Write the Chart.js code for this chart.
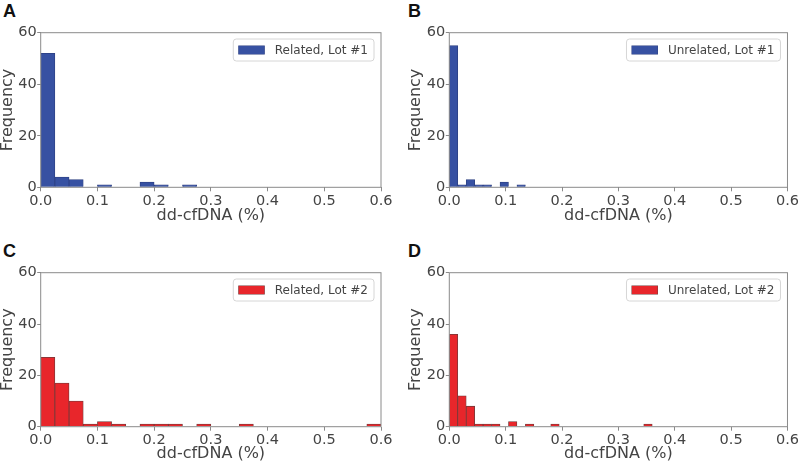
<!DOCTYPE html>
<html lang="en">
<head>
    <meta charset="UTF-8">
    <title>dd-cfDNA histograms</title>
    <style>
        body{
            margin: 0;
            background: #ffffff;
            width: 800px;
            height: 463px;
            position: relative;
            overflow: hidden;
        }
        .panel{
            position: absolute;
        }
        .letter{
            position: absolute;
            font-family: "Liberation Sans", Arial, sans-serif;
            font-weight: bold;
            font-size: 18px;
            line-height: 18px;
            color: #111111;
        }
    </style>
</head>
<body>
    <div class="letter" style="left:3px; top:1.5px">A</div>
    <div class="letter" style="left:408px; top:1.5px">B</div>
    <div class="letter" style="left:3px; top:241.5px">C</div>
    <div class="letter" style="left:408px; top:241.5px">D</div>

    <div class="panel" style="left:0px; top:0px; width:400px; height:230px"><canvas id="chart-a"></canvas></div>
    <div class="panel" style="left:400px; top:0px; width:400px; height:230px"><canvas id="chart-b"></canvas></div>
    <div class="panel" style="left:0px; top:230px; width:400px; height:233px"><canvas id="chart-c"></canvas></div>
    <div class="panel" style="left:400px; top:230px; width:400px; height:233px"><canvas id="chart-d"></canvas></div>

    <script src="https://cdn.jsdelivr.net/npm/chart.js"></script>

    <script>
        // bin widths (dd-cfDNA %) and counts per bin, starting at 0
        const binWidthA = 0.025
        const countsA = [52, 4, 3, 0, 1, 0, 0, 2, 1, 0, 1]

        const binWidthB = 0.015
        const countsB = [55, 1, 3, 1, 1, 0, 2, 0, 1]

        const binWidthC = 0.025
        const countsC = [27, 17, 10, 1, 2, 1, 0, 1, 1, 1, 0, 1, 0, 0, 1, 0, 0, 0, 0, 0, 0, 0, 0, 1]

        const binWidthD = 0.015
        const countsD = [36, 12, 8, 1, 1, 1, 0, 2, 0, 1, 0, 0, 1, 0, 0, 0, 0, 0, 0, 0, 0, 0, 0, 1]

        const labelA = "Related, Lot #1"
        const labelB = "Unrelated, Lot #1"
        const labelC = "Related, Lot #2"
        const labelD = "Unrelated, Lot #2"

        const xTicks = [0, 0.1, 0.2, 0.3, 0.4, 0.5, 0.6]
        const yTicks = [0, 20, 40, 60]

        const BLUE = "#3751a2"
        const BLUE_EDGE = "#2c3f80"
        const RED = "#e8262b"
        const RED_EDGE = "#703a3a"
        const TEXT = "#444444"
        const FRAME = "#8a8a8a"
        const FONT = '"DejaVu Sans", sans-serif'

        // frame round the plot area + legend box in the upper right
        const framePlugin = {
            id: 'framePlugin',
            afterDatasetsDraw(chart){
                const ctx = chart.ctx
                const a = chart.chartArea
                ctx.save()
                ctx.strokeStyle = FRAME
                ctx.lineWidth = 1
                ctx.strokeRect(a.left, a.top, a.right - a.left, a.bottom - a.top)
                ctx.restore()
            },
            afterDraw(chart){
                const ctx = chart.ctx
                const a = chart.chartArea
                const ds = chart.data.datasets[0]
                ctx.save()
                ctx.font = '12px ' + FONT
                const tw = ctx.measureText(ds.label).width
                const w = 5 + 26.5 + 10 + tw + 6
                const h = 22
                const x = a.right - 7 - w
                const y = a.top + 6.3
                const r = 3
                ctx.beginPath()
                ctx.moveTo(x + r, y)
                ctx.lineTo(x + w - r, y)
                ctx.quadraticCurveTo(x + w, y, x + w, y + r)
                ctx.lineTo(x + w, y + h - r)
                ctx.quadraticCurveTo(x + w, y + h, x + w - r, y + h)
                ctx.lineTo(x + r, y + h)
                ctx.quadraticCurveTo(x, y + h, x, y + h - r)
                ctx.lineTo(x, y + r)
                ctx.quadraticCurveTo(x, y, x + r, y)
                ctx.closePath()
                ctx.fillStyle = "rgba(255,255,255,0.85)"
                ctx.fill()
                ctx.strokeStyle = "#d6d6d6"
                ctx.lineWidth = 1
                ctx.stroke()

                ctx.fillStyle = ds.borderColor
                ctx.fillRect(x + 5, y + 6.5, 26.5, 9)
                ctx.fillStyle = ds.backgroundColor
                ctx.fillRect(x + 5.5, y + 7, 25.5, 8)

                ctx.fillStyle = TEXT
                ctx.textBaseline = 'middle'
                ctx.textAlign = 'left'
                ctx.fillText(ds.label, x + 5 + 26.5 + 10, y + h / 2 + 0.5)
                ctx.restore()
            }
        }

        function makeHist(id, binWidth, counts, label, color, edge, box){
            const points = []
            counts.forEach((c, i) => {
                points.push({x: binWidth * i + binWidth / 2, y: c})
            })

            new Chart(document.getElementById(id), {
                type: 'bar',
                data: {
                    datasets: [{
                        label: label,
                        data: points,
                        backgroundColor: color,
                        borderColor: edge,
                        borderWidth: {top: 0.8, left: 0.8, right: 0.8, bottom: 0},
                        barPercentage: 1,
                        categoryPercentage: 1
                    }]
                },
                options: {
                    responsive: true,
                    maintainAspectRatio: false,
                    animation: false,
                    layout: {
                        padding: {top: box.top, right: box.right, left: box.left, bottom: 0}
                    },
                    plugins: {
                        legend: {display: false},
                        tooltip: {enabled: false}
                    },
                    scales: {
                        x: {
                            type: 'linear',
                            min: 0,
                            max: 0.6,
                            offset: false,
                            afterBuildTicks: (s) => { s.ticks = xTicks.map(v => ({value: v})) },
                            afterFit: (s) => { s.height = box.xh },
                            grid: {display: true, drawOnChartArea: false, drawTicks: true, tickLength: 4, color: FRAME, offset: false},
                            border: {display: false},
                            ticks: {
                                color: TEXT,
                                padding: 1,
                                maxRotation: 0,
                                font: {family: FONT, size: 14.5},
                                callback: (v) => Number(v).toFixed(1)
                            },
                            title: {
                                display: true,
                                text: 'dd-cfDNA (%)',
                                color: TEXT,
                                font: {family: FONT, size: 16, lineHeight: 1},
                                padding: {top: 0, bottom: box.titlePad}
                            }
                        },
                        y: {
                            min: 0,
                            max: 60,
                            afterBuildTicks: (s) => { s.ticks = yTicks.map(v => ({value: v})) },
                            afterFit: (s) => { s.width = box.yw },
                            grid: {display: true, drawOnChartArea: false, drawTicks: true, tickLength: 3.5, color: FRAME},
                            border: {display: false},
                            ticks: {
                                color: TEXT,
                                padding: 0.5,
                                font: {family: FONT, size: 14.5}
                            },
                            title: {
                                display: true,
                                text: 'Frequency',
                                color: TEXT,
                                font: {family: FONT, size: 16, lineHeight: 1},
                                padding: {top: 0, bottom: 0}
                            }
                        }
                    }
                },
                plugins: [framePlugin]
            })
        }

        makeHist('chart-a', binWidthA, countsA, labelA, BLUE, BLUE_EDGE,
            {top: 32.7, right: 19, left: 0, yw: 40.7, xh: 42.7, titlePad: 6.5})
        makeHist('chart-b', binWidthB, countsB, labelB, BLUE, BLUE_EDGE,
            {top: 32.7, right: 10, left: 8, yw: 41.3, xh: 42.7, titlePad: 6.5})
        makeHist('chart-c', binWidthC, countsC, labelC, RED, RED_EDGE,
            {top: 42.7, right: 19, left: 0, yw: 40.7, xh: 36.3, titlePad: 1})
        makeHist('chart-d', binWidthD, countsD, labelD, RED, RED_EDGE,
            {top: 42.7, right: 10, left: 8, yw: 41.3, xh: 36.3, titlePad: 1})
    </script>
</body>
</html>
